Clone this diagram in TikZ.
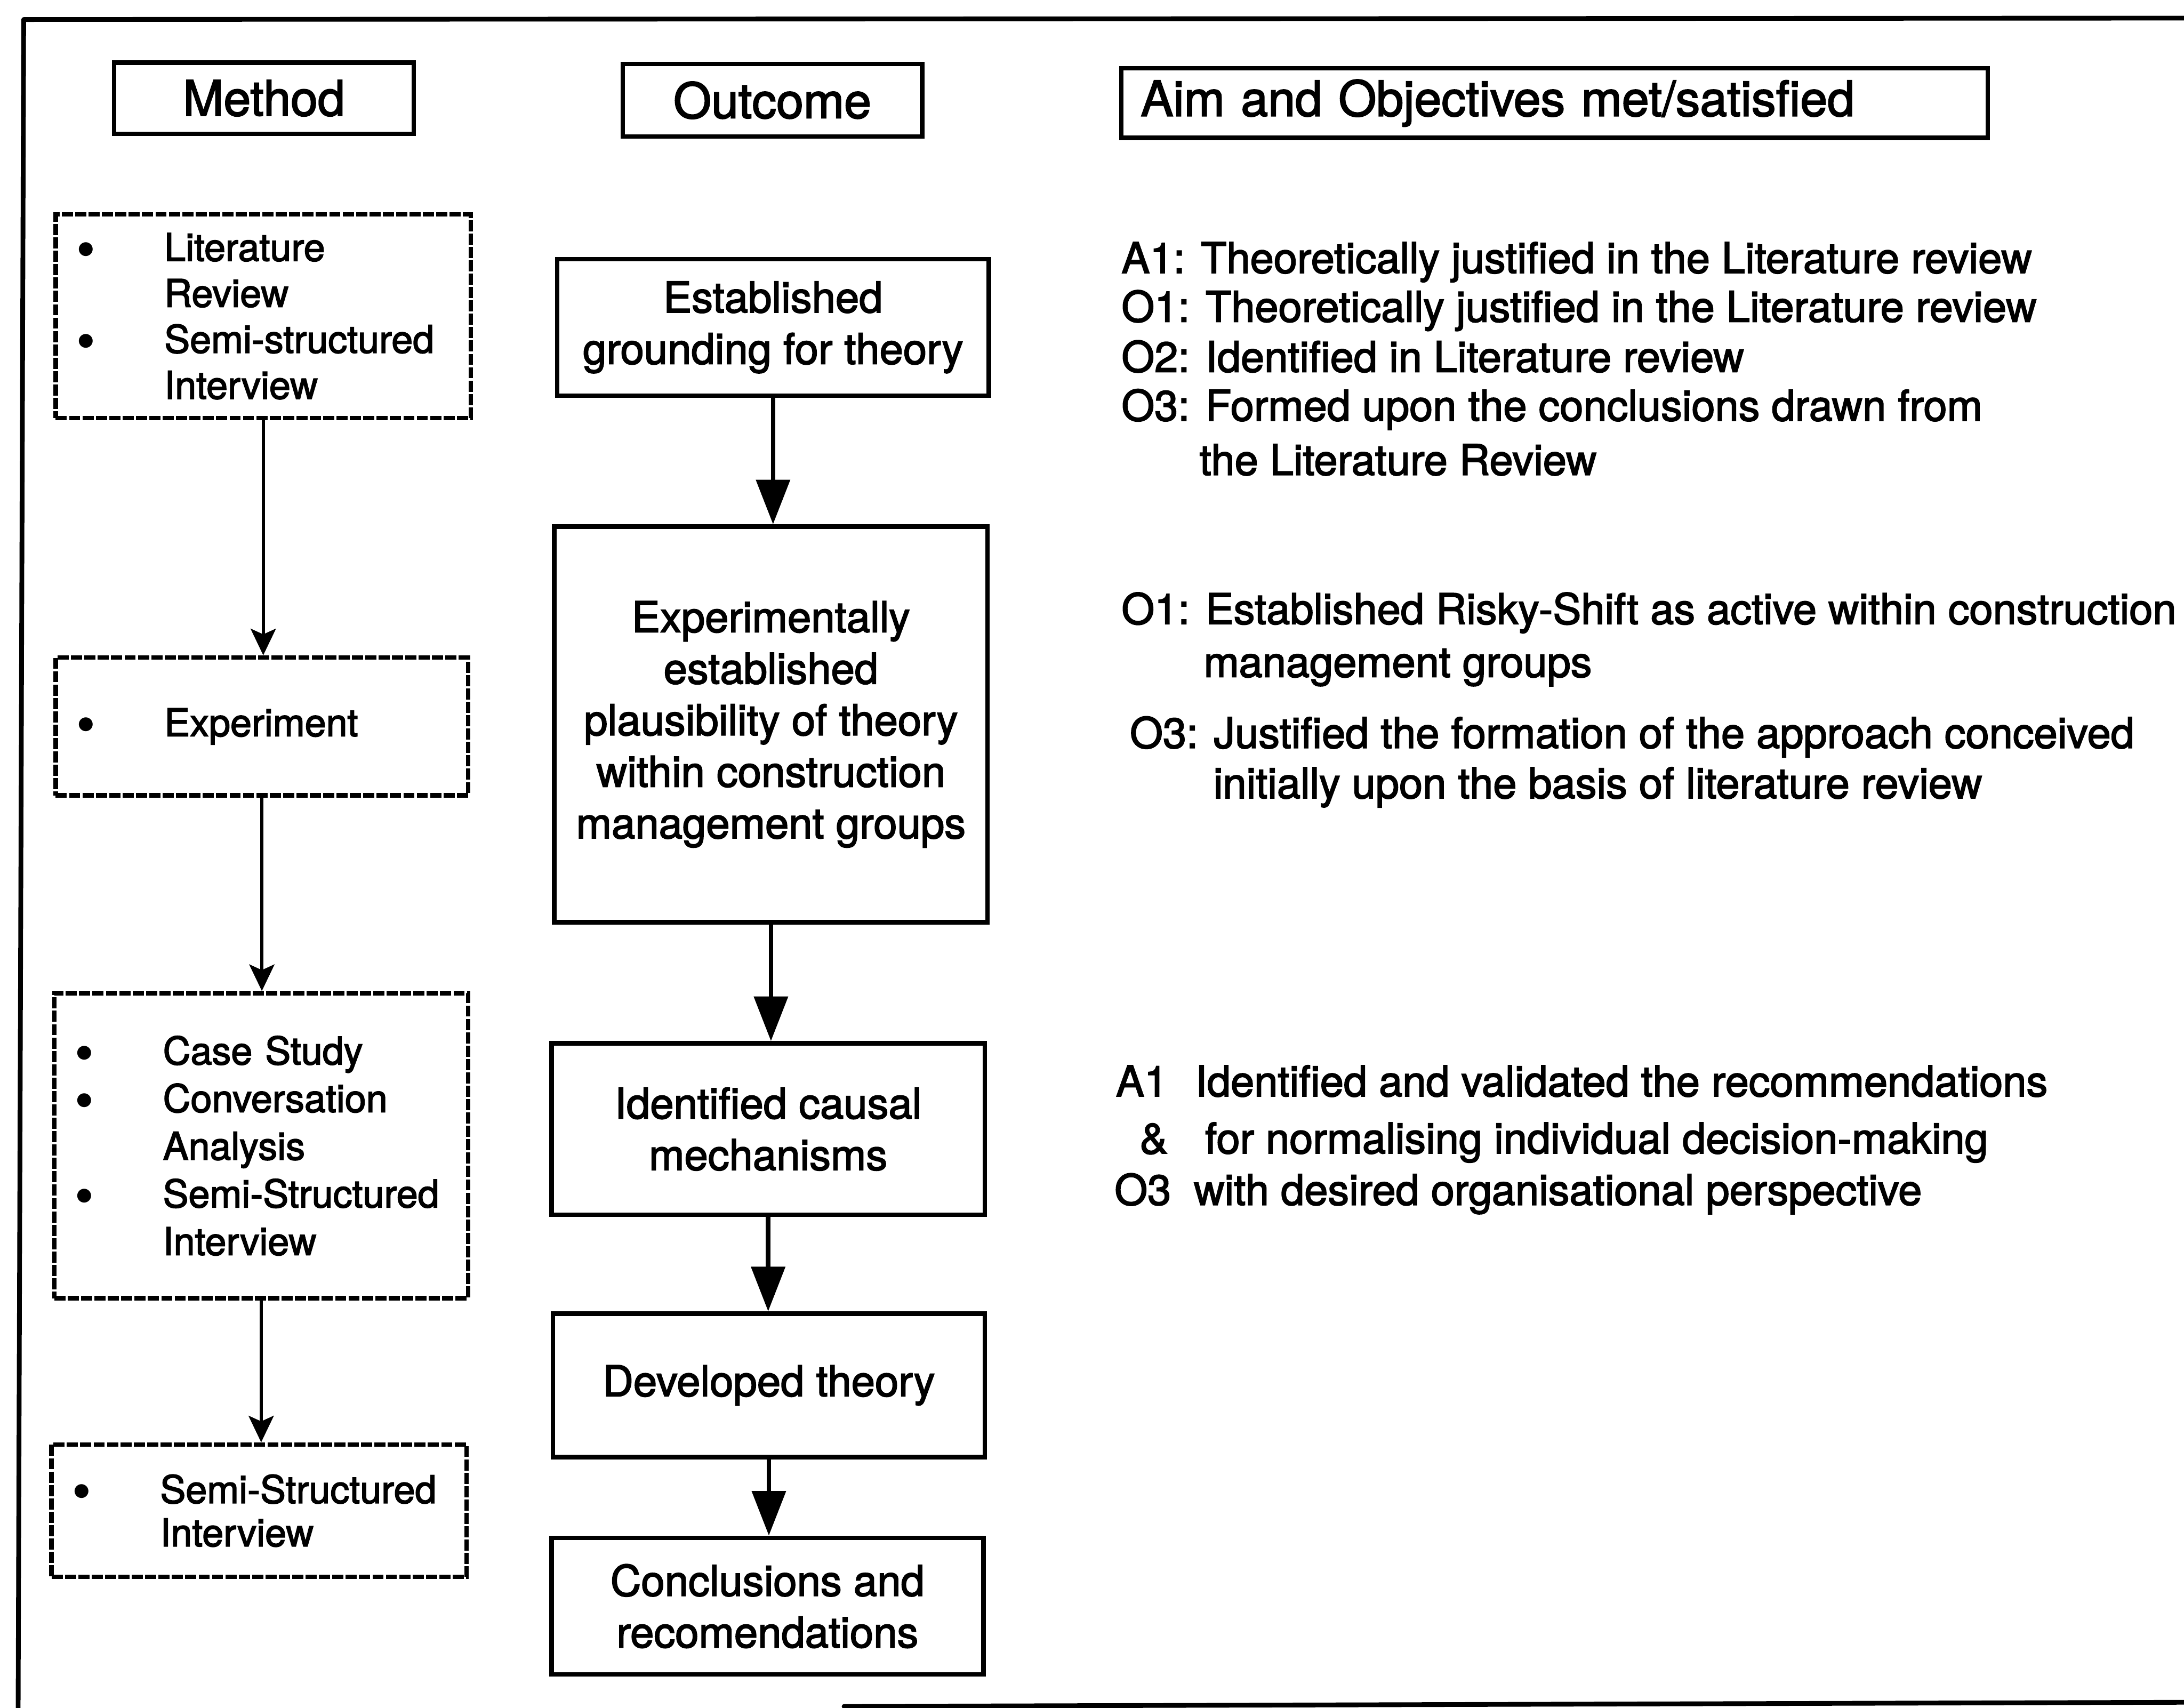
\documentclass[tikz,border=0pt]{standalone}
\usepackage{fontspec}
\setmainfont{TeX Gyre Heros}[FakeBold=2.3]
\newfontfamily\dotfont{DejaVu Sans}
\usetikzlibrary{arrows.meta}
% bullet column used inside the method boxes
\newcommand{\itemdot}{\makebox[62pt][l]{\raisebox{5pt}{\dotfont\fontsize{13}{13}\selectfont ●}}}
\newcommand{\itemgap}{\hspace*{62pt}}
\begin{document}
\begin{tikzpicture}[x=1pt,y=-1pt,
  frame/.style={line width=3.4pt, line cap=round, line join=round},
  headbox/.style={draw, line width=3.2pt, inner sep=0pt, font=\fontsize{35}{42}\selectfont},
  outbox/.style={draw, line width=3.3pt, inner sep=0pt, align=center, font=\fontsize{30.5}{37}\selectfont},
  methbox/.style={draw, line width=3.2pt, dash pattern=on 8pt off 1.6pt, inner xsep=16pt, inner ysep=0pt, align=left},
  aimtext/.style={anchor=base west, inner sep=0pt, font=\fontsize{30.4}{36}\selectfont},
  methflow/.style={line width=2.4pt, -{Stealth[length=19pt,width=18pt,inset=4pt]}},
  outflow/.style={line width=3.2pt, -{Triangle[length=32pt,width=24pt]}},
]
\useasboundingbox (0,0) rectangle (1568,1226);

% outer frame (right side and most of the bottom lie beyond the page)
\draw[frame] (1575,13) -- (17,14) -- (13,1232);
\draw[frame] (606,1225) -- (1575,1222);

% column headings
\node[headbox, minimum width=215pt, minimum height=51pt] (hm) at (189.5,70.5) {Method};
\node[headbox, minimum width=215pt, minimum height=52pt] (ho) at (554.5,72) {Outcome};
\node[headbox, minimum width=622pt, minimum height=50pt, inner xsep=14pt, text width=594pt, align=left] (ha) at (1116,74) {Aim and Objectives met/satisfied};

% method column
\node[methbox, minimum width=298pt, minimum height=146pt, text width=266pt,
      font=\fontsize{27.5}{33}\selectfont] (m1) at (189,227)
  {\itemdot Literature\\ \itemgap Review\\ \itemdot Semi-structured\\ \itemgap Interview};
\node[methbox, minimum width=296pt, minimum height=99pt, text width=264pt,
      font=\fontsize{27.5}{33}\selectfont] (m2) at (188,521.5)
  {\itemdot Experiment};
\node[methbox, minimum width=297pt, minimum height=219pt, text width=265pt,
      font=\fontsize{27.5}{34.2}\selectfont] (m3) at (187.5,822.5)
  {\itemdot Case Study\\ \itemdot Conversation\\ \itemgap Analysis\\ \itemdot Semi-Structured\\ \itemgap Interview};
\node[methbox, minimum width=298pt, minimum height=95pt, text width=266pt,
      font=\fontsize{27.5}{31}\selectfont] (m4) at (186,1084.5)
  {\itemdot Semi-Structured\\ \itemgap Interview};

\draw[methflow] (m1.south) -- (m1.south |- m2.north);
\draw[methflow] (m2.south) -- (m2.south |- m3.north);
\draw[methflow] (m3.south) -- (m3.south |- m4.north);

% outcome column
\node[outbox, minimum width=310pt, minimum height=98pt] (o1) at (555,235)
  {Established\\grounding for theory};
\node[outbox, minimum width=311pt, minimum height=284pt] (o2) at (553.5,520)
  {Experimentally\\established\\plausibility of theory\\within construction\\management groups};
\node[outbox, minimum width=311pt, minimum height=123pt] (o3) at (551.5,810.5)
  {Identified causal\\mechanisms};
\node[outbox, minimum width=310pt, minimum height=103pt] (o4) at (552,994.5)
  {Developed theory};
\node[outbox, minimum width=310pt, minimum height=98pt] (o5) at (551,1153)
  {Conclusions and\\recomendations};

\draw[outflow] (o1.south) -- (o1.south |- o2.north);
\draw[outflow] (o2.south) -- (o2.south |- o3.north);
\draw[outflow] (o3.south) -- (o3.south |- o4.north);
\draw[outflow] (o4.south) -- (o4.south |- o5.north);

% aims and objectives met at each stage
\node[aimtext] (a1) at (805,196) {A1: Theoretically justified in the Literature review};
\node[aimtext] (a2) at (805,231) {O1: Theoretically justified in the Literature review};
\node[aimtext] (a3) at (805,267) {O2: Identified in Literature review};
\node[aimtext] (a4) at (805,302) {O3: Formed upon the conclusions drawn from};
\node[aimtext] (a5) at (861,341) {the Literature Review};

\node[aimtext] (b1) at (805,448) {O1: Established Risky-Shift as active within construction};
\node[aimtext] (b2) at (864,486) {management groups};
\node[aimtext] (b3) at (811,537) {O3: Justified the formation of the approach conceived};
\node[aimtext] (b4) at (871,573) {initially upon the basis of literature review};

\node[aimtext] (c1) at (801,787) {\makebox[57pt][l]{A1}Identified and validated the recommendations};
\node[aimtext] (c2) at (818,828) {\makebox[47pt][l]{\&}for normalising individual decision-making};
\node[aimtext] (c3) at (800,865) {\makebox[57pt][l]{O3}with desired organisational perspective};
\end{tikzpicture}
\end{document}
